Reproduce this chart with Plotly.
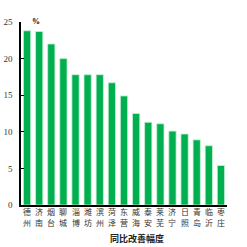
import plotly.graph_objects as go

cities = ["德州", "济南", "烟台", "聊城", "淄博", "潍坊", "滨州", "菏泽", "东营",
          "威海", "泰安", "莱芜", "济宁", "日照", "青岛", "临沂", "枣庄"]
values = [23.8, 23.7, 22.0, 20.0, 17.8, 17.8, 17.8, 16.7, 14.9,
          12.5, 11.3, 11.1, 10.1, 9.7, 8.9, 8.1, 5.4]

L, R, T, B = 21, 20, 22, 42
plot_w = 247 - L - R
plot_h = 247 - T - B

def py(pix):
    return (247 - B - pix) / plot_h

fig = go.Figure(go.Bar(
    x=cities, y=values,
    marker=dict(color="#00B050", line=dict(color="#c8f0d4", width=0.8)),
    width=0.6,
))

annotations = [
    dict(text="<b>%</b>", x=(36 - L) / plot_w, y=py(21.7),
         xref="paper", yref="paper", yanchor="middle", xanchor="center",
         showarrow=False, font=dict(family="Liberation Serif", size=8, color="black")),
    dict(text="<b>同比改善幅度</b>", x=(137 - L) / plot_w, y=py(238),
         xref="paper", yref="paper", yanchor="middle", xanchor="center",
         showarrow=False, font=dict(family="Noto Sans CJK SC", size=9, color="#222")),
]
for c in cities:
    for i, row in enumerate((211.5, 222.5)):
        annotations.append(dict(
            text=c[i], x=c, xref="x", y=py(row), yref="paper",
            yanchor="middle", xanchor="center", showarrow=False,
            font=dict(family="Noto Sans CJK SC", size=8, color="#333"),
        ))

fig.update_layout(
    width=247, height=247,
    margin=dict(l=L, r=R, t=T, b=B, autoexpand=False),
    plot_bgcolor="white", paper_bgcolor="white",
    showlegend=False,
    xaxis=dict(
        showticklabels=False,
        showline=True, linecolor="black", linewidth=1.5,
        ticks="", showgrid=False, automargin=False,
    ),
    yaxis=dict(
        range=[0, 25], dtick=5, showgrid=False, zeroline=False,
        showline=True, linecolor="black", linewidth=1.5,
        ticks="inside", ticklen=3, tickcolor="black", automargin=False,
        ticklabelstandoff=5,
        tickfont=dict(family="Liberation Serif", size=9, color="#333"),
    ),
    annotations=annotations,
)
fig.write_html("out.html")
